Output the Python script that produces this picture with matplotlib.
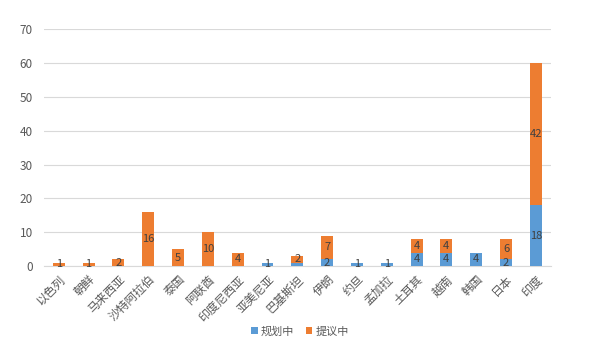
import matplotlib.pyplot as plt
import numpy as np

plt.rcParams['font.family'] = ['Noto Sans CJK SC', 'DejaVu Sans']

countries = ['以色列', '朝鲜', '马来西亚', '沙特阿拉伯', '泰国', '阿联酋', '印度尼西亚', '亚美尼亚',
             '巴基斯坦', '伊朗', '约旦', '孟加拉', '土耳其', '越南', '韩国', '日本', '印度']
planned = [0, 0, 0, 0, 0, 0, 0, 1, 1, 2, 1, 1, 4, 4, 4, 2, 18]
proposed = [1, 1, 2, 16, 5, 10, 4, 0, 2, 7, 0, 0, 4, 4, 0, 6, 42]

blue = '#5B9BD5'
orange = '#ED7D31'
grey = '#595959'

fig = plt.figure(figsize=(6, 3.64), dpi=100)
ax = fig.add_axes([0.073, 0.269, 0.845, 0.651])

x = np.arange(len(countries))
b1 = ax.bar(x, planned, width=0.4, color=blue, label='规划中', zorder=3)
b2 = ax.bar(x, proposed, width=0.4, bottom=planned, color=orange, label='提议中', zorder=3)

# data labels in the middle of each segment
for i in range(len(countries)):
    if planned[i] > 0 and countries[i] != '巴基斯坦':
        ax.text(x[i], planned[i] / 2, str(planned[i]), ha='center', va='center',
                fontsize=8, color='#404040', zorder=4)
    if proposed[i] > 0:
        ax.text(x[i], planned[i] + proposed[i] / 2, str(proposed[i]), ha='center', va='center',
                fontsize=8, color='#404040', zorder=4)

ax.set_xlim(-0.5, len(countries) - 0.5)
ax.set_ylim(0, 70)
ax.set_yticks(range(0, 71, 10))
ax.grid(axis='y', color='#D9D9D9', linewidth=0.8, zorder=0)
ax.set_xticks(x)
ax.set_xticklabels(countries, rotation=45, ha='right', rotation_mode='anchor', fontsize=8.5, color=grey)
ax.tick_params(axis='y', labelsize=8.5, colors=grey, length=0, pad=8)
ax.tick_params(axis='x', length=0, pad=5)
for s in ['top', 'right', 'left']:
    ax.spines[s].set_visible(False)
ax.spines['bottom'].set_color('#D9D9D9')

fig.legend(handles=[b1, b2], loc='center', bbox_to_anchor=(0.5, 0.09), ncol=2, frameon=False,
           fontsize=8, handlelength=0.6, handleheight=0.6, handletextpad=0.3, columnspacing=1.0,
           labelcolor=grey)

fig.savefig('out.png', dpi=100, facecolor='white')
